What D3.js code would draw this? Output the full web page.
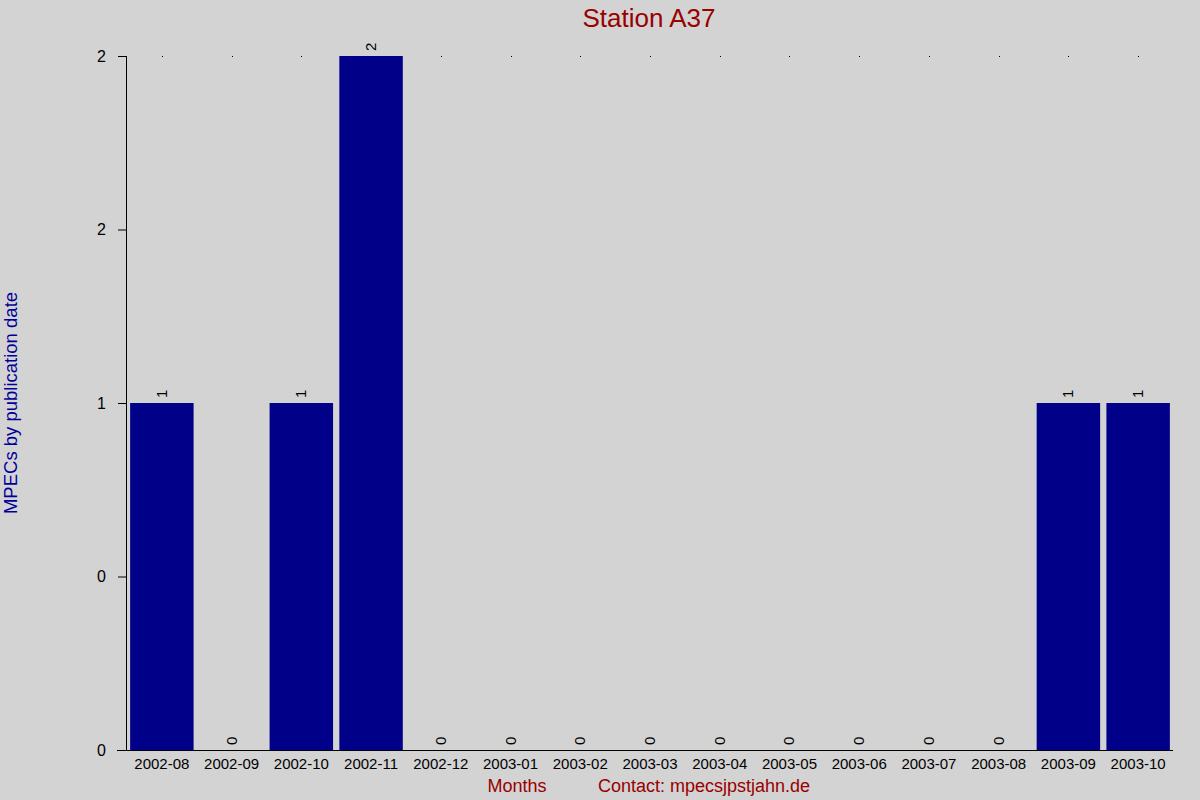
<!DOCTYPE html>
<html><head><meta charset="utf-8">
<script src="https://cdn.jsdelivr.net/npm/d3@7"></script>
<style>body{margin:0;background:#d3d3d3;}svg{display:block;font-family:"Liberation Sans",Arial,sans-serif;}</style>
</head><body>
<svg id="c" width="1200" height="800"></svg>
<script>
const months = ["2002-08","2002-09","2002-10","2002-11","2002-12","2003-01","2003-02","2003-03","2003-04","2003-05","2003-06","2003-07","2003-08","2003-09","2003-10"];
const counts = [1,0,1,2,0,0,0,0,0,0,0,0,0,1,1];
const yTickValues = [0,0.5,1,1.5,2];
const yTickLabels = ["0","0","1","2","2"];

const svg = d3.select("#c");
svg.append("rect").attr("width",1200).attr("height",800).attr("fill","#d3d3d3");

const x = d3.scaleBand().domain(months).range([127,1173]).paddingInner(0.09).paddingOuter(0.045);
const y = d3.scaleLinear().domain([0,2]).range([750,56]);

// top dots
svg.append("g").selectAll("rect").data(months).join("rect")
  .attr("x",d=>Math.round(x(d)+x.bandwidth()/2)).attr("y",56).attr("width",1).attr("height",1).attr("fill","#000");

// bars
svg.append("g").selectAll("rect").data(months).join("rect")
  .attr("x",d=>x(d)).attr("width",x.bandwidth())
  .attr("y",(d,i)=>y(counts[i])).attr("height",(d,i)=>y(0)-y(counts[i]))
  .attr("fill","#000088");

// value labels
svg.append("g").selectAll("text").data(months).join("text")
  .attr("transform",(d,i)=>`translate(${x(d)+x.bandwidth()/2+5},${y(counts[i])-5}) rotate(-90)`)
  .attr("text-anchor","start").attr("font-size",15).attr("fill","#000")
  .text((d,i)=>counts[i]);

// y axis
const yAxis = d3.axisLeft(y).tickValues(yTickValues).tickFormat((d,i)=>yTickLabels[i]).tickSize(8).tickPadding(12);
const gy = svg.append("g").attr("transform","translate(126,0)").call(yAxis);
gy.select(".domain").attr("d","M0.5,56V750.5");
gy.selectAll("text").attr("font-size",16).attr("font-family","Liberation Sans, Arial, sans-serif").attr("fill","#000");

// x axis
const xAxis = d3.axisBottom(x).tickSize(0).tickPadding(8);
const gx = svg.append("g").attr("transform","translate(0,750)").call(xAxis);
gx.select(".domain").attr("d","M117,0.5H1173");
gx.selectAll("text").attr("font-size",15).attr("font-family","Liberation Sans, Arial, sans-serif").attr("fill","#000");

// title
svg.append("text").attr("x",649).attr("y",27).attr("text-anchor","middle")
  .attr("font-size",26).attr("fill","#990000").text("Station A37");

// y label
svg.append("text").attr("transform","translate(17,403) rotate(-90)").attr("text-anchor","middle")
  .attr("font-size",18.5).attr("fill","#000099").text("MPECs by publication date");

// x labels
svg.append("text").attr("x",517).attr("y",792).attr("text-anchor","middle")
  .attr("font-size",18).attr("fill","#990000").text("Months");
svg.append("text").attr("x",598).attr("y",792).attr("text-anchor","start")
  .attr("font-size",18).attr("fill","#990000").text("Contact: mpecsjpstjahn.de");
</script>
</body></html>
